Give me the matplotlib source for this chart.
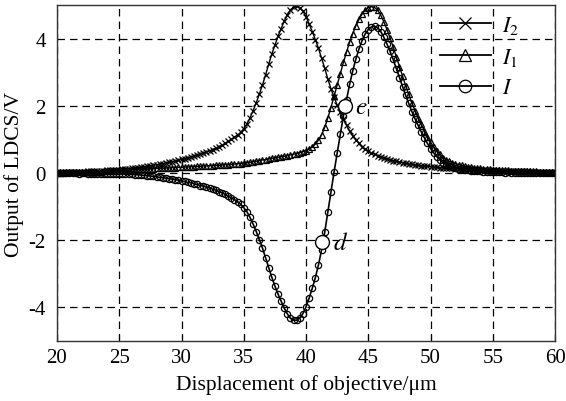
import numpy as np
import matplotlib
matplotlib.use("Agg")
import matplotlib.pyplot as plt

plt.rcParams['font.family'] = ['Liberation Serif', 'DejaVu Serif']
plt.rcParams['mathtext.fontset'] = 'stix'
plt.rcParams['axes.unicode_minus'] = False

# displacement samples (um), every 0.25 from 20 to 60
x = np.linspace(20, 60, 161)

# I2 signal
I2 = [0.02, 0.02, 0.02, 0.03, 0.03, 0.03, 0.03, 0.04, 0.04, 0.04, 0.05, 0.05,
      0.06, 0.06, 0.06, 0.07, 0.08, 0.08, 0.09, 0.09, 0.10, 0.11, 0.12, 0.13,
      0.14, 0.15, 0.16, 0.17, 0.19, 0.20, 0.22, 0.23, 0.25, 0.27, 0.28, 0.30,
      0.32, 0.34, 0.36, 0.38, 0.41, 0.43, 0.46, 0.48, 0.51, 0.54, 0.57, 0.60,
      0.63, 0.66, 0.70, 0.74, 0.78, 0.83, 0.88, 0.94, 1.00, 1.06, 1.13, 1.21,
      1.32, 1.46, 1.64, 1.86, 2.09, 2.35, 2.62, 2.92, 3.24, 3.54, 3.81, 4.07,
      4.30, 4.52, 4.71, 4.86, 4.94, 4.96, 4.92, 4.82, 4.65, 4.44, 4.21, 3.97,
      3.71, 3.42, 3.12, 2.80, 2.51, 2.25, 2.02, 1.81, 1.60, 1.42, 1.25, 1.11,
      0.99, 0.88, 0.79, 0.71, 0.65, 0.60, 0.56, 0.52, 0.49, 0.46, 0.43, 0.40,
      0.37, 0.35, 0.33, 0.31, 0.29, 0.27, 0.26, 0.24, 0.23, 0.22, 0.21, 0.20,
      0.19, 0.18, 0.17, 0.16, 0.16, 0.15, 0.14, 0.14, 0.13, 0.13, 0.12, 0.12,
      0.11, 0.11, 0.10, 0.10, 0.09, 0.09, 0.09, 0.08, 0.08, 0.08, 0.07, 0.07,
      0.07, 0.06, 0.06, 0.06, 0.05, 0.05, 0.05, 0.05, 0.04, 0.04, 0.04, 0.04,
      0.03, 0.03, 0.03, 0.03, 0.03]

# I1 signal
I1 = [0.01, 0.01, 0.01, 0.02, 0.02, 0.02, 0.02, 0.02, 0.03, 0.03, 0.03, 0.03,
      0.04, 0.04, 0.04, 0.05, 0.05, 0.06, 0.06, 0.07, 0.08, 0.08, 0.09, 0.09,
      0.10, 0.10, 0.11, 0.11, 0.12, 0.12, 0.13, 0.13, 0.14, 0.14, 0.14, 0.15,
      0.15, 0.16, 0.16, 0.17, 0.17, 0.18, 0.18, 0.19, 0.19, 0.20, 0.20, 0.21,
      0.21, 0.22, 0.22, 0.23, 0.23, 0.24, 0.25, 0.25, 0.26, 0.27, 0.28, 0.28,
      0.29, 0.31, 0.32, 0.34, 0.35, 0.37, 0.39, 0.40, 0.42, 0.44, 0.45, 0.47,
      0.49, 0.50, 0.52, 0.54, 0.56, 0.58, 0.61, 0.64, 0.67, 0.72, 0.78, 0.86,
      0.98, 1.14, 1.36, 1.64, 1.95, 2.28, 2.62, 2.96, 3.29, 3.60, 3.89, 4.15,
      4.38, 4.57, 4.73, 4.85, 4.92, 4.95, 4.93, 4.85, 4.70, 4.50, 4.27, 4.02,
      3.75, 3.46, 3.16, 2.88, 2.60, 2.34, 2.09, 1.86, 1.65, 1.45, 1.26, 1.08,
      0.92, 0.78, 0.66, 0.56, 0.46, 0.40, 0.35, 0.31, 0.28, 0.25, 0.23, 0.21,
      0.19, 0.17, 0.16, 0.15, 0.14, 0.13, 0.12, 0.11, 0.10, 0.10, 0.09, 0.09,
      0.08, 0.08, 0.07, 0.07, 0.06, 0.06, 0.06, 0.05, 0.05, 0.05, 0.05, 0.04,
      0.04, 0.04, 0.03, 0.03, 0.03]

# difference signal I
I = [-0.01, -0.01, -0.01, -0.01, -0.01, -0.01, -0.01, -0.02, -0.01, -0.01, -0.02, -0.02,
     -0.02, -0.02, -0.02, -0.02, -0.03, -0.03, -0.03, -0.03, -0.02, -0.03, -0.03, -0.04,
     -0.04, -0.05, -0.05, -0.06, -0.07, -0.08, -0.09, -0.10, -0.11, -0.13, -0.14, -0.15,
     -0.17, -0.18, -0.20, -0.21, -0.24, -0.25, -0.28, -0.29, -0.32, -0.34, -0.37, -0.39,
     -0.42, -0.44, -0.48, -0.51, -0.55, -0.59, -0.63, -0.69, -0.74, -0.79, -0.85, -0.93,
     -1.03, -1.15, -1.32, -1.52, -1.74, -1.98, -2.23, -2.52, -2.82, -3.10, -3.36, -3.60,
     -3.81, -4.02, -4.19, -4.32, -4.38, -4.38, -4.31, -4.18, -3.98, -3.72, -3.43, -3.11,
     -2.73, -2.28, -1.76, -1.16, -0.56, 0.03, 0.60, 1.15, 1.69, 2.18, 2.64, 3.04,
     3.39, 3.69, 3.94, 4.14, 4.27, 4.35, 4.37, 4.33, 4.21, 4.04, 3.84, 3.62,
     3.38, 3.11, 2.83, 2.57, 2.31, 2.07, 1.83, 1.62, 1.42, 1.23, 1.05, 0.88,
     0.73, 0.60, 0.49, 0.40, 0.30, 0.25, 0.21, 0.17, 0.15, 0.12, 0.11, 0.09,
     0.08, 0.06, 0.06, 0.05, 0.05, 0.04, 0.03, 0.03, 0.02, 0.02, 0.02, 0.02,
     0.01, 0.02, 0.01, 0.01, 0.01, 0.01, 0.01, 0.00, 0.01, 0.01, 0.01, 0.00,
     0.01, 0.01, 0.00, 0.00, 0.00]

# marked points c and d on curve I
point_labels = ['c', 'd']
point_x = [43.1, 41.3]
point_y = [2.0, -2.05]

xticks = [20, 25, 30, 35, 40, 45, 50, 55, 60]
yticks = [-4, -2, 0, 2, 4]

fig = plt.figure(figsize=(5.66, 4.02), dpi=100)
ax = fig.add_axes([0.1007, 0.149, 0.880, 0.836])

ax.plot(x, I2, color='black', lw=1.0, marker='x', ms=4.5, mew=0.9, label=r'$I_2$')
ax.plot(x, I1, color='black', lw=1.0, marker='^', ms=4.5, mew=0.9,
        mfc='none', label=r'$I_1$')
ax.plot(x, I, color='black', lw=1.2, marker='o', ms=4.5, mew=0.9,
        mfc='none', label=r'$I$')

for lab, px, py in zip(point_labels, point_x, point_y):
    ax.plot(px, py, marker='o', ms=10, mfc='white', mec='black', mew=1.0, ls='none')
    ax.annotate(lab, (px, py), xytext=(8, -5), textcoords='offset points',
                fontsize=18, fontstyle='italic', family='STIXGeneral')

ax.set_xlim(20, 60)
ax.set_ylim(-5, 5)
ax.set_xticks(xticks)
ax.set_yticks(yticks)
ax.set_xticklabels([str(v) for v in xticks])
ax.set_yticklabels([str(v) for v in yticks])
ax.tick_params(direction='in', length=4, labelsize=15, pad=5)
ax.tick_params(axis='y', length=0, pad=8)
ax.grid(True, color='black', ls=(0, (6, 4)), lw=0.9)
for s in ax.spines.values():
    s.set_linewidth(1.0)
    s.set_color('#333333')

ax.set_xlabel('Displacement of objective/\u03bcm', fontsize=15.5, labelpad=5)
ax.set_ylabel('Output of LDCS/V', fontsize=15.5, labelpad=3)

leg = ax.legend(loc='upper right', frameon=False, fontsize=16, handlelength=2.3,
                markerscale=2.0, borderaxespad=0.0, labelspacing=0.45,
                handletextpad=0.5, bbox_to_anchor=(0.945, 1.0))
for h in leg.get_lines():
    h.set_linewidth(1.3)

fig.savefig('out.png', dpi=100)
